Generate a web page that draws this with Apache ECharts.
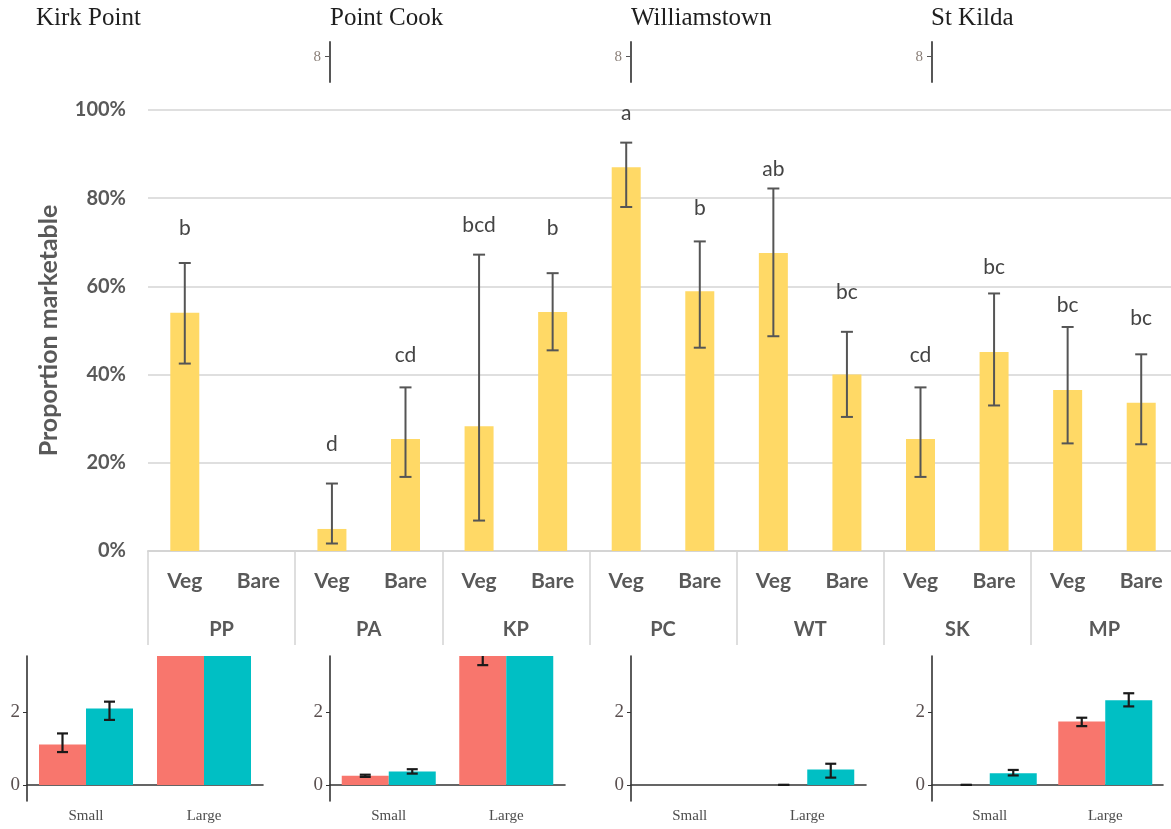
<!DOCTYPE html>
<html><head><meta charset="utf-8">
<script src="https://cdn.jsdelivr.net/npm/echarts@6/dist/echarts.min.js"></script>
<style>html,body{margin:0;padding:0;background:#fff}#c{width:1171px;height:829px}</style>
</head><body><div id="c"></div>
<script>
// ---- main chart data ----
const sites = ['PP','PA','KP','PC','WT','SK','MP'];
const habitats = ['Veg','Bare'];
const marketable = [54.0, null, 5.0, 25.4, 28.3, 54.2, 87.0, 58.9, 67.6, 40.0, 25.4, 45.1, 36.5, 33.6];
const errLow  = [42.5, null, 1.7, 16.8, 6.9, 45.5, 78.0, 46.1, 48.7, 30.4, 16.8, 33.0, 24.4, 24.2];
const errHigh = [65.3, null, 15.3, 37.1, 67.2, 63.0, 92.6, 70.2, 82.2, 49.7, 37.1, 58.4, 50.8, 44.6];
const letters = ['b', '', 'd', 'cd', 'bcd', 'b', 'a', 'b', 'ab', 'bc', 'cd', 'bc', 'bc', 'bc'];
const letterY = [73.2, null, 24.2, 44.4, 73.8, 73.3, 99.3, 77.8, 86.5, 58.7, 44.5, 64.4, 55.7, 52.7];
const yTickValues = [0, 20, 40, 60, 80, 100];

// ---- inset panels data ----
const panelTitles = ['Kirk Point', 'Point Cook', 'Williamstown', 'St Kilda'];
const sizeClasses = ['Small', 'Large'];
const redMean  = [[1.11, 4.6], [0.25, 3.65], [null, 0], [0, 1.74]];
const redLo    = [[0.90, 4.3], [0.22, 3.28], [null, 0], [0, 1.61]];
const redHi    = [[1.41, 4.9], [0.28, 4.0],  [null, 0], [0, 1.84]];
const tealMean = [[2.09, 4.8], [0.37, 4.2],  [null, 0.42], [0.32, 2.32]];
const tealLo   = [[1.78, 4.5], [0.31, 3.9],  [null, 0.20], [0.26, 2.15]];
const tealHi   = [[2.28, 5.1], [0.43, 4.5],  [null, 0.58], [0.41, 2.51]];
const insetTicks = [0, 2];
const topFragmentTick = [8];

// ---- layout/style ----
const chart = echarts.init(document.getElementById('c'));
const sans = 'Lato';
const serif = 'Liberation Serif';
const gray = '#595959';
const keys = [];
sites.forEach(s => habitats.forEach(h => keys.push(s + '|' + h)));

function errData(lo, hi) {
  const out = [];
  lo.forEach((l, i) => { if (l != null && hi[i] != null) out.push([i, l, hi[i]]); });
  return out;
}
function errRender(capW, color, lw, offset) {
  return function (params, api) {
    const i = api.value(0);
    const a = api.coord([i, api.value(1)]);
    const b = api.coord([i, api.value(2)]);
    const x = a[0] + offset;
    const st = { stroke: color, lineWidth: lw };
    return { type: 'group', children: [
      { type: 'line', shape: { x1: x, y1: a[1], x2: x, y2: b[1] }, style: st },
      { type: 'line', shape: { x1: x - capW / 2, y1: a[1], x2: x + capW / 2, y2: a[1] }, style: st },
      { type: 'line', shape: { x1: x - capW / 2, y1: b[1], x2: x + capW / 2, y2: b[1] }, style: st }
    ]};
  };
}

const grids = [
  { left: 148, width: 1030, top: 110, height: 441, outerBoundsMode: 'none', containLabel: false }
];
const xAxes = [
  { gridIndex: 0, type: 'category', data: keys,
    axisLine: { show: true, lineStyle: { color: '#d4d4d4', width: 2 } },
    axisTick: { show: false },
    axisLabel: { interval: 0, margin: 20, color: gray, fontFamily: sans, fontWeight: 'bold', fontSize: 21,
      formatter: v => v.split('|')[1] } },
  { gridIndex: 0, type: 'category', data: sites, position: 'bottom',
    axisLine: { show: false },
    axisTick: { show: true, interval: 0, length: 94, lineStyle: { color: '#d4d4d4', width: 1.5 } },
    axisLabel: { interval: 0, margin: 69, color: gray, fontFamily: sans, fontWeight: 'bold', fontSize: 20 } }
];
const yAxes = [
  { gridIndex: 0, type: 'value', min: 0, max: 100, interval: 20,
    name: 'Proportion marketable', nameLocation: 'middle', nameGap: 87,
    nameTextStyle: { color: gray, fontFamily: sans, fontWeight: 'bold', fontSize: 25 },
    axisLine: { show: false }, axisTick: { show: false },
    axisLabel: { margin: 22, color: gray, fontFamily: sans, fontWeight: 'bold', fontSize: 20,
      customValues: yTickValues, formatter: v => v + '%' },
    splitLine: { lineStyle: { color: '#d4d4d4', width: 1.5 } } }
];
const series = [
  { type: 'bar', xAxisIndex: 0, yAxisIndex: 0, data: marketable, barWidth: 29,
    itemStyle: { color: '#FFD966' }, silent: true },
  { type: 'custom', xAxisIndex: 0, yAxisIndex: 0, data: errData(errLow, errHigh),
    encode: { x: 0, y: [1, 2] }, renderItem: errRender(12, '#555555', 2, 0), z: 5 },
  { type: 'custom', xAxisIndex: 0, yAxisIndex: 0,
    data: letterY.map((y, i) => y == null ? null : [i, y]).filter(d => d),
    encode: { x: 0, y: 1 },
    renderItem: function (params, api) {
      const i = api.value(0);
      const p = api.coord([i, api.value(1)]);
      return { type: 'text', x: p[0], y: p[1],
        style: { text: letters[i], fill: '#444', font: '21px ' + sans, align: 'center', verticalAlign: 'middle' } };
    }, z: 6 }
];

// inset panels
const insetLefts = [27, 330, 631, 932];
const insetWidths = [236, 235, 235, 231];
insetLefts.forEach((left, p) => {
  const gi = grids.length, xi = xAxes.length, yi = yAxes.length;
  grids.push({ left: left, top: 656, width: insetWidths[p], height: 145, outerBoundsMode: 'none', containLabel: false });
  xAxes.push({ gridIndex: gi, type: 'category', data: sizeClasses,
    axisLine: { lineStyle: { color: '#333', width: 1.6 } },
    axisTick: { alignWithLabel: true, length: 4, lineStyle: { color: '#333' } },
    axisLabel: { margin: 8, color: '#4d4d4d', fontFamily: serif, fontSize: 15 } });
  yAxes.push({ gridIndex: gi, type: 'value', min: -0.44, max: 3.53,
    axisLine: { show: true, lineStyle: { color: '#333', width: 1.6 } },
    axisTick: { show: true, length: 4, customValues: insetTicks, lineStyle: { color: '#333' } },
    axisLabel: { margin: 7, color: '#5a5050', fontFamily: serif, fontSize: 19, customValues: insetTicks },
    splitLine: { show: false } });
  series.push({ type: 'bar', xAxisIndex: xi, yAxisIndex: yi, data: redMean[p], barWidth: 47, barGap: '0%',
    itemStyle: { color: '#F8766D' }, clip: true, silent: true });
  series.push({ type: 'bar', xAxisIndex: xi, yAxisIndex: yi, data: tealMean[p], barWidth: 47, barGap: '0%',
    itemStyle: { color: '#00BFC4' }, clip: true, silent: true });
  series.push({ type: 'custom', xAxisIndex: xi, yAxisIndex: yi, data: errData(redLo[p], redHi[p]),
    encode: { x: 0, y: [1, 2] }, renderItem: errRender(11, '#1a1a1a', 2.2, -23.5), clip: true, z: 5 });
  series.push({ type: 'custom', xAxisIndex: xi, yAxisIndex: yi, data: errData(tealLo[p], tealHi[p]),
    encode: { x: 0, y: [1, 2] }, renderItem: errRender(11, '#1a1a1a', 2.2, 23.5), clip: true, z: 5 });
});

// top axis fragments (bottom ends of other panels' y axes)
[330, 631, 932].forEach(left => {
  const gi = grids.length;
  grids.push({ left: left, top: 42, width: 20, height: 40, outerBoundsMode: 'none', containLabel: false });
  xAxes.push({ gridIndex: gi, type: 'value', show: false, min: 0, max: 1 });
  yAxes.push({ gridIndex: gi, type: 'value', min: 6, max: 9.15,
    axisLine: { show: true, lineStyle: { color: '#444', width: 1.8 } },
    axisTick: { show: true, length: 5, customValues: topFragmentTick, lineStyle: { color: '#555' } },
    axisLabel: { margin: 9, color: '#8a7f78', fontFamily: serif, fontSize: 15, customValues: topFragmentTick },
    splitLine: { show: false } });
});

const titleLefts = [36, 330, 631, 931];
const option = {
  animation: false,
  title: panelTitles.map((t, i) => ({ text: t, left: titleLefts[i], top: 6, padding: 0,
    textStyle: { fontFamily: serif, fontSize: 25, fontWeight: 'normal', color: '#1e1e1e' } })),
  grid: grids, xAxis: xAxes, yAxis: yAxes, series: series
};
chart.setOption(option);
</script></body></html>
